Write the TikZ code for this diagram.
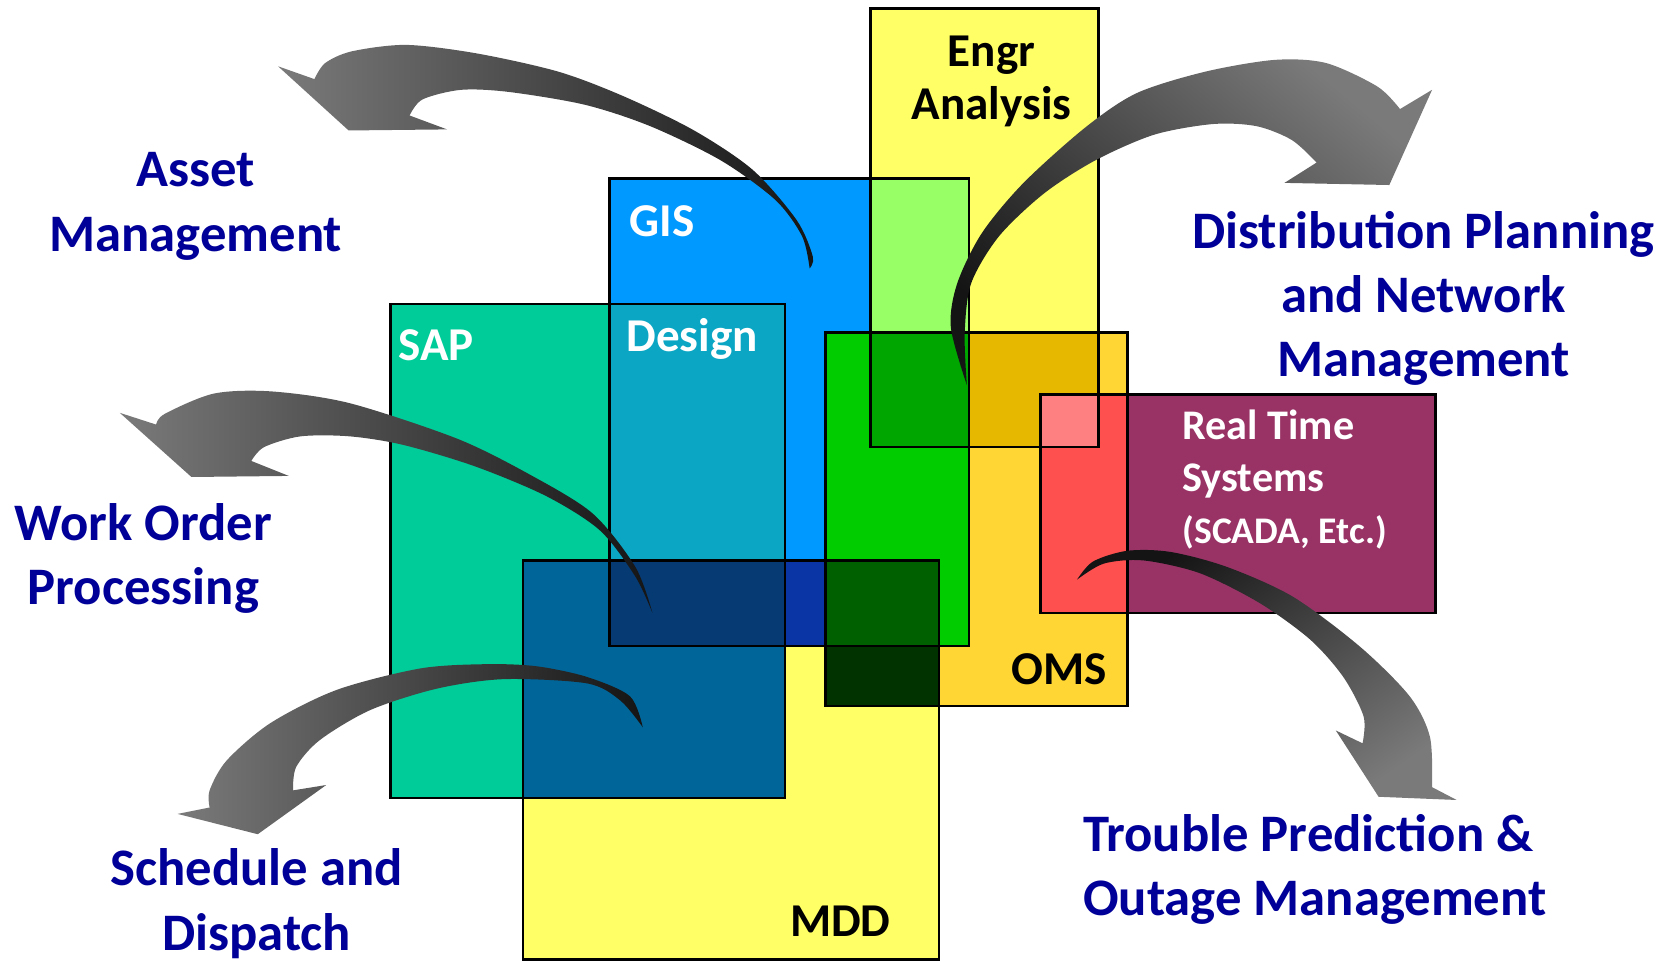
\documentclass[tikz,border=0pt]{standalone}
\usepackage{fontspec}
\setmainfont{Carlito}
\definecolor{labelcol}{HTML}{000099}
\definecolor{engrcol}{HTML}{FFFF66}
\definecolor{giscol}{HTML}{0099FF}
\definecolor{sapcol}{HTML}{00CC99}
\definecolor{mddcol}{HTML}{FFFF66}
\definecolor{omscol}{HTML}{FFD633}
\definecolor{rtscol}{HTML}{993366}
\definecolor{limecol}{HTML}{99FF66}
\definecolor{designcol}{HTML}{0AA6C4}
\definecolor{mddsapcol}{HTML}{006699}
\definecolor{royalcol}{HTML}{0A35A5}
\definecolor{navycol}{HTML}{063A72}
\definecolor{greencol}{HTML}{00CC00}
\definecolor{goldcol}{HTML}{E6B800}
\definecolor{dkgreencol}{HTML}{00A600}
\definecolor{blkgreencol}{HTML}{003300}
\definecolor{mdgreencol}{HTML}{006000}
\definecolor{redcol}{HTML}{FF5050}
\definecolor{pinkcol}{HTML}{FF8080}
\begin{document}
\begin{tikzpicture}[x=0.010695cm,y=-0.010695cm,
    box/.style={draw=black,line width=0.7pt},
    outer/.style={text=labelcol,font=\fontsize{15}{18.3}\selectfont\bfseries,align=center,inner sep=0pt},
    inner/.style={font=\fontsize{13.4}{14.9}\selectfont\bfseries,inner sep=0pt},
    flow/.style={top color=black!52,middle color=black!62,bottom color=black!92}]
    \useasboundingbox (0,0) rectangle (1568,901);
    \foreach \c/\a/\b in {engrcol/{814,8}/{1027,418}, giscol/{570,167}/{906,604},
        sapcol/{365,284}/{734,746}, mddcol/{489,524}/{878,897},
        omscol/{772,311}/{1054,660}, rtscol/{973,369}/{1342,573},
        limecol/{814,167}/{906,418}, designcol/{570,284}/{734,604},
        mddsapcol/{489,524}/{734,746}, royalcol/{570,524}/{878,604},
        navycol/{570,524}/{734,604}, greencol/{772,311}/{906,604},
        goldcol/{814,311}/{1027,418}, dkgreencol/{814,311}/{906,418},
        blkgreencol/{772,524}/{878,660}, mdgreencol/{772,524}/{878,604},
        redcol/{973,369}/{1054,573}, pinkcol/{973,369}/{1027,418}}
        \fill[\c] (\a) rectangle (\b);
    \foreach \a/\b in {{814,8}/{1027,418}, {570,167}/{906,604}, {365,284}/{734,746},
        {489,524}/{878,897}, {772,311}/{1054,660}, {973,369}/{1342,573}}
        \draw[box] (\a) rectangle (\b);
    \shade[flow,shading angle=90] plot[smooth] coordinates {(757,251) (760,240) (745,206) (704,159) (649,122) (583,90) (522,67) (446,50) (380,42) (329,48) (304,59) (294,74)}
        -- (260,62) -- (326,122) -- (418,121)
        -- plot[smooth] coordinates {(383,108) (395,93) (431,84) (476,86) (547,98) (608,118) (674,150) (725,187) (750,221) (757,251)} -- cycle;
    \shade[flow,shading angle=90] plot[smooth] coordinates {(610,573) (594,530) (554,480) (494,443) (427,410) (327,377) (254,366) (200,368) (154,387) (146,397)}
        -- (112,386) -- (179,446) -- (270,445)
        -- plot[smooth] coordinates {(235,431) (247,418) (281,408) (327,408) (377,416) (444,436) (511,464) (561,496) (594,539) (610,573)} -- cycle;
    \shade[flow,shading angle=90] plot[smooth] coordinates {(601,680) (589,651) (549,633) (502,623) (455,621) (393,625) (315,645) (253,676) (212,711) (196,739) (196,755)}
        -- (166,761) -- (241,780) -- (305,734)
        -- plot[smooth] coordinates {(274,739) (277,717) (299,692) (346,664) (408,644) (471,635) (549,639) (580,655) (601,680)} -- cycle;
    \shade[flow,shading angle=-40] plot[smooth] coordinates {(904,360) (889,306) (895,265) (918,218) (957,171) (1015,119) (1063,87) (1127,67) (1192,56) (1240,59) (1288,81) (1309,102)}
        -- (1339,84) -- (1299,173) -- (1201,171)
        -- plot[smooth] coordinates {(1231,152) (1208,131) (1175,118) (1134,116) (1079,126) (1024,150) (976,181) (934,221) (908,265) (902,312) (904,360)} -- cycle;
    \shade[flow,shading angle=-145] plot[smooth] coordinates {(1007,542) (1022,525) (1054,515) (1094,516) (1147,530) (1209,558) (1272,605) (1318,651) (1337,689) (1339,736)}
        -- (1362,748) -- (1289,745) -- (1249,683)
        -- plot[smooth] coordinates {(1274,695) (1275,670) (1256,633) (1225,598) (1178,564) (1122,536) (1069,524) (1032,527) (1007,542)} -- cycle;
    \node[outer] (asset) at (183,193) {Asset\\Management};
    \node[outer] (workorder) at (134,522) {Work Order\\Processing};
    \node[outer] (schedule) at (240,845) {Schedule and\\Dispatch};
    \node[outer] (distplan) at (1331,279) {Distribution Planning\\and Network\\Management};
    \node[outer,align=left,anchor=west] (trouble) at (1012,813) {Trouble Prediction \&\\Outage Management};
    \node[inner,align=center] (engr) at (927,76) {Engr\\Analysis};
    \node[inner,text=white,anchor=base west] (gis) at (588,221) {GIS};
    \node[inner,text=white,anchor=base west] (sap) at (372,337) {SAP};
    \node[inner,text=white,anchor=base west] (design) at (585,329) {Design};
    \node[inner,anchor=base west] (oms) at (945,640) {OMS};
    \node[inner,anchor=base west] (mdd) at (738,876) {MDD};
    \node[inner,text=white,align=left,anchor=north west,font=\fontsize{12}{14.8}\selectfont\bfseries] (rts) at (1105,383)
        {Real Time\\Systems\\{\fontsize{10.7}{14.8}\selectfont(SCADA, Etc.)}};
\end{tikzpicture}
\end{document}
